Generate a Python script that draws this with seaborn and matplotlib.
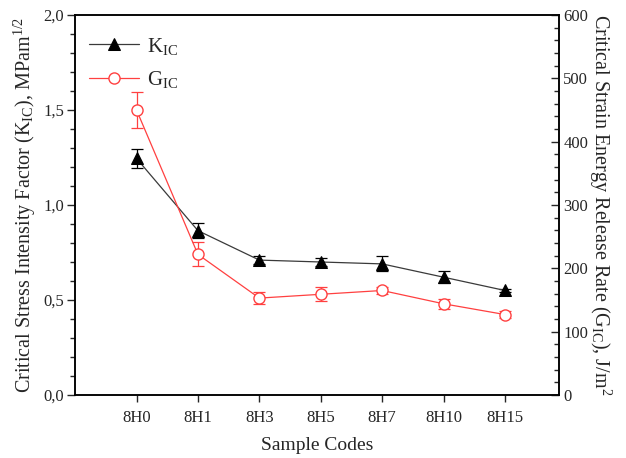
import numpy as np
import pandas as pd
import matplotlib
matplotlib.use("Agg")
import matplotlib.pyplot as plt
from matplotlib.ticker import MultipleLocator, FuncFormatter
import seaborn as sns

samples = ["8H0", "8H1", "8H3", "8H5", "8H7", "8H10", "8H15"]
k_ic = [1.245, 0.865, 0.71, 0.70, 0.69, 0.62, 0.55]
k_err = [0.05, 0.04, 0.02, 0.02, 0.04, 0.03, 0.01]
g_ic = [450, 222, 153, 159, 165, 144, 127]
g_err = [28, 19, 10, 11, 5, 8, 5]

sns.set_theme(style="white")
plt.rcParams["font.family"] = ["Liberation Serif", "DejaVu Serif"]
plt.rcParams["mathtext.fontset"] = "custom"
plt.rcParams["mathtext.rm"] = "Liberation Serif"
plt.rcParams["mathtext.it"] = "Liberation Serif:italic"

df = pd.DataFrame({"pos": np.arange(len(samples)), "K": k_ic, "G": g_ic})

fig = plt.figure(figsize=(6.26, 4.58), dpi=100)
ax = fig.add_axes([0.12, 0.1376, 0.773, 0.8296])
ax2 = ax.twinx()

k_color = "#3a3a3a"
g_color = "#ff4040"

sns.lineplot(data=df, x="pos", y="K", ax=ax, color=k_color, lw=0.9,
             marker="^", markersize=9, markerfacecolor="black",
             markeredgecolor="black", zorder=3)
ax.errorbar(df["pos"], df["K"], yerr=k_err, fmt="none", ecolor="black",
            elinewidth=0.9, capsize=4, capthick=0.9, zorder=2)

sns.lineplot(data=df, x="pos", y="G", ax=ax2, color=g_color, lw=0.9,
             marker="o", markersize=8, markerfacecolor="white",
             markeredgecolor=g_color, markeredgewidth=1.0, zorder=3)
ax2.errorbar(df["pos"], df["G"], yerr=g_err, fmt="none", ecolor=g_color,
             elinewidth=0.9, capsize=4, capthick=0.9, zorder=2)

ax.set_xlim(-1, 6.88)
ax.set_ylim(0, 2.0)
ax2.set_ylim(0, 600)

ax.set_xticks(df["pos"])
ax.set_xticklabels(samples)
ax.yaxis.set_major_locator(MultipleLocator(0.5))
ax.yaxis.set_minor_locator(MultipleLocator(0.1))
ax.yaxis.set_major_formatter(FuncFormatter(lambda v, p: f"{v:.1f}".replace(".", ",")))
ax2.yaxis.set_major_locator(MultipleLocator(100))
ax2.yaxis.set_minor_locator(MultipleLocator(20))

ax.tick_params(axis="y", which="major", direction="out", length=6, width=1,
               labelsize=12, pad=2, left=True)
ax.tick_params(axis="y", which="minor", direction="out", length=3.5, width=1, left=True)
ax.tick_params(axis="x", which="major", direction="out", length=5, width=1,
               labelsize=12, pad=6, bottom=True)
ax2.tick_params(axis="y", which="major", direction="in", length=6, width=1,
                labelsize=12, pad=3, right=True)
ax2.tick_params(axis="y", which="minor", direction="in", length=3.5, width=1, right=True)

for a in (ax, ax2):
    for s in a.spines.values():
        s.set_color("black")
        s.set_linewidth(1.1)

ax.set_xlabel("Sample Codes", fontsize=14, labelpad=8)
ax.set_ylabel(r"Critical Stress Intensity Factor (K$_\mathrm{IC}$), MPam$^\mathrm{1/2}$",
              fontsize=14.5, labelpad=4)
ax2.set_ylabel(r"Critical Strain Energy Release Rate (G$_\mathrm{IC}$), J/m$^\mathrm{2}$",
               fontsize=14.5, rotation=270, labelpad=18)

h1 = ax.get_lines()[0]
h2 = ax2.get_lines()[0]
ax.legend([h1, h2], [r"K$_\mathrm{IC}$", r"G$_\mathrm{IC}$"], loc="upper left",
          bbox_to_anchor=(-0.01, 0.995), frameon=False, fontsize=15,
          handlelength=2.4, labelspacing=0.6, handletextpad=0.4)

fig.savefig("out.png", dpi=100)
